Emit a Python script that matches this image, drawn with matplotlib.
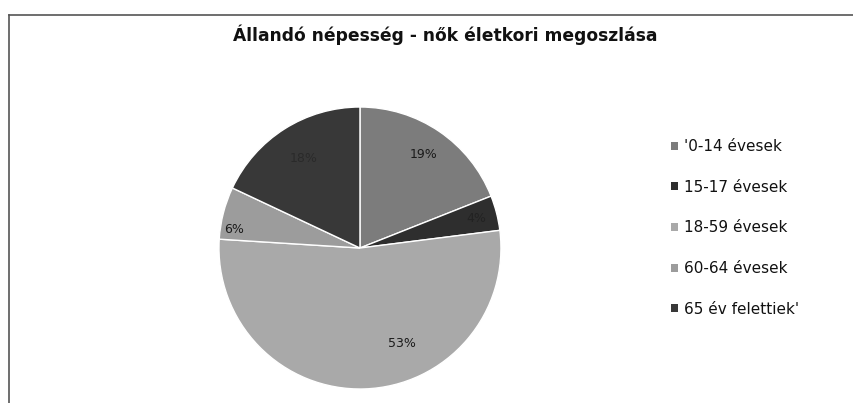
import matplotlib
matplotlib.use("Agg")
import matplotlib.pyplot as plt
from matplotlib.lines import Line2D
import numpy as np

title = "Állandó népesség - nők életkori megoszlása"
categories = ["'0-14 évesek", "15-17 évesek", "18-59 évesek", "60-64 évesek", "65 év felettiek'"]
values = [19, 4, 53, 6, 18]
colors = ["#7c7c7c", "#2e2e2e", "#a9a9a9", "#9c9c9c", "#383838"]
label_colors = ["#1a1a1a", "#222222", "#1a1a1a", "#1a1a1a", "#2a2a2a"]
# label placement tweaks (angle offset in degrees, radial distance)
label_adj = [(0, 0.80), (0, 0.85), (22, 0.74), (6, 0.90), (0, 0.75)]

plt.rcParams['font.family'] = ['DejaVu Sans']

fig = plt.figure(figsize=(8.54, 4.03), dpi=100)
fig.patch.set_facecolor("white")

# chart frame (top and left edges visible)
fig.add_artist(Line2D([0.0105, 0.0105], [0.0, 0.963], color="#555555", lw=1.2, transform=fig.transFigure))
fig.add_artist(Line2D([0.0105, 1.0], [0.963, 0.963], color="#555555", lw=1.2, transform=fig.transFigure))

fig.text(0.521, 0.915, title, ha="center", va="center", fontsize=12.3, color="#111111", fontweight="bold")

ax = fig.add_axes([0.2564, 0.0347, 0.3302, 0.6998])
wedges, texts = ax.pie(values, colors=colors, startangle=90, counterclock=False,
                       wedgeprops=dict(edgecolor="white", linewidth=1.0))
ax.set_xlim(-1, 1)
ax.set_ylim(-1, 1)
ax.set_aspect("equal")

total = sum(values)
for w, v, (da, r), lc in zip(wedges, values, label_adj, label_colors):
    mid = np.deg2rad((w.theta1 + w.theta2) / 2 + da)
    ax.text(r * np.cos(mid), r * np.sin(mid), f"{round(100 * v / total)}%",
            ha="center", va="center", fontsize=9, color=lc)

handles = [plt.Rectangle((0, 0), 1, 1, facecolor=c, edgecolor="none") for c in colors]
leg = fig.legend(handles, categories, loc="upper left", bbox_to_anchor=(0.770, 0.689),
                 frameon=False, fontsize=11, handlelength=0.45, handleheight=0.45,
                 handletextpad=0.4, labelspacing=1.68, labelcolor="#111111")

fig.savefig("out.png", dpi=100, facecolor="white")
